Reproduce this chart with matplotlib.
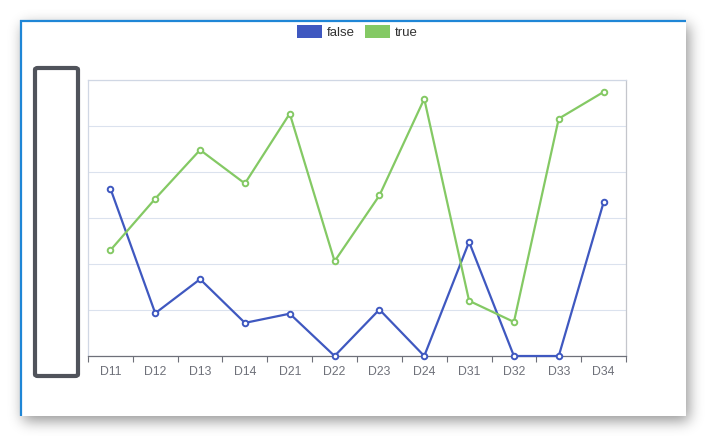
import numpy as np
import matplotlib
matplotlib.use("Agg")
import matplotlib.pyplot as plt
from matplotlib.patches import Rectangle, FancyBboxPatch
from matplotlib.lines import Line2D

# ---------------- data ----------------
categories = ["D11", "D12", "D13", "D14", "D21", "D22", "D23", "D24", "D31", "D32", "D33", "D34"]
series_names = ["false", "true"]
false_values = [36.4, 9.3, 16.7, 7.2, 9.2, 0, 10.1, 0, 24.8, 0, 0, 33.4]
true_values = [23.0, 34.2, 44.8, 37.5, 52.7, 20.6, 34.9, 55.9, 12.0, 7.4, 51.6, 57.4]
y_ticks = [0, 10, 20, 30, 40, 50, 60]

colors = ["#3f58c0", "#84c964"]

W, H = 706, 436
fig = plt.figure(figsize=(W / 100, H / 100), dpi=100)
fig.patch.set_facecolor("white")

def fx(px):
    return px / W

def fy(py):
    return 1 - py / H

# ---------------- card shadow ----------------
cx0, cy0, cx1, cy1 = 20, 20, 686, 416
mask = np.zeros((H, W))
dx, dy = 3, 5
mask[cy0 + dy:cy1 + dy, cx0 + dx:cx1 + dx] = 1.0
sigma = 7.0
k = np.arange(-25, 26)
g = np.exp(-k ** 2 / (2 * sigma ** 2))
g /= g.sum()
blur = np.apply_along_axis(lambda r: np.convolve(r, g, mode="same"), 1, mask)
blur = np.apply_along_axis(lambda c: np.convolve(c, g, mode="same"), 0, blur)
img = np.zeros((H, W, 4))
img[..., 3] = 0.42 * blur
fig.figimage(img, xo=0, yo=0, origin="upper", zorder=-3)

# card
fig.patches.append(Rectangle((fx(cx0), fy(cy1)), (cx1 - cx0) / W, (cy1 - cy0) / H,
                             transform=fig.transFigure, facecolor="white",
                             edgecolor="none", zorder=-2))
# blue top / left border
fig.lines.append(Line2D([fx(cx0), fx(cx1)], [fy(21), fy(21)], transform=fig.transFigure,
                        color="#1f86d6", linewidth=1.6, zorder=-1, solid_capstyle="butt"))
fig.lines.append(Line2D([fx(21), fx(21)], [fy(cy0), fy(cy1)], transform=fig.transFigure,
                        color="#1f86d6", linewidth=1.6, zorder=-1, solid_capstyle="butt"))

# ---------------- axes ----------------
ax = fig.add_axes([fx(88), fy(356), (626 - 88) / W, (356 - 80) / H])
ax.set_facecolor("none")
x = np.arange(len(categories))
for vals, c in zip([false_values, true_values], colors):
    ax.plot(x, vals, color=c, linewidth=1.6, marker="o", markersize=4,
            markerfacecolor="white", markeredgecolor=c, markeredgewidth=1.4,
            zorder=3, clip_on=False)

ax.set_xlim(-0.5, len(categories) - 0.5)
ax.set_ylim(y_ticks[0], y_ticks[-1])
ax.set_yticks(y_ticks)
ax.set_yticklabels([])
ax.tick_params(axis="y", length=0)
ax.grid(axis="y", color="#dbe2ee", linewidth=0.8)
ax.set_axisbelow(True)

ax.set_xticks(np.arange(len(categories) + 1) - 0.5)
ax.set_xticklabels([])
ax.set_xticks(x, minor=True)
ax.set_xticklabels(categories, minor=True, fontsize=8.8, color="#6e7079",
                   family=["Liberation Sans", "DejaVu Sans"])
ax.tick_params(axis="x", which="major", length=4, width=0.8, color="#6e7079", direction="out")
ax.tick_params(axis="x", which="minor", length=0, pad=7)

ax.spines["bottom"].set_color("#6e7079")
ax.spines["bottom"].set_linewidth(0.9)
ax.spines["left"].set_color("#d0d7e4")
ax.spines["left"].set_linewidth(0.9)
ax.spines["top"].set_color("#d0d7e4")
ax.spines["top"].set_linewidth(0.9)
ax.spines["right"].set_color("#c4c6cc")
ax.spines["right"].set_linewidth(0.9)

# ---------------- dark box on the left ----------------
fig.patches.append(FancyBboxPatch((fx(35), fy(376)), (78 - 35) / W, (376 - 68) / H,
                                  boxstyle="round,pad=0,rounding_size=0.004",
                                  transform=fig.transFigure, facecolor="white",
                                  edgecolor="#50535b", linewidth=3.0, zorder=2))

# ---------------- legend ----------------
leg_items = [(297, colors[0], series_names[0]), (365, colors[1], series_names[1])]
for lx, c, name in leg_items:
    fig.patches.append(Rectangle((fx(lx), fy(38)), 25 / W, 13 / H, transform=fig.transFigure,
                                 facecolor=c, edgecolor="none", zorder=3))
    fig.text(fx(lx + 30), fy(32.5), name, fontsize=9.5, color="#333333", va="center", ha="left",
             family=["Liberation Sans", "DejaVu Sans"])

fig.savefig("out.png", dpi=100)
